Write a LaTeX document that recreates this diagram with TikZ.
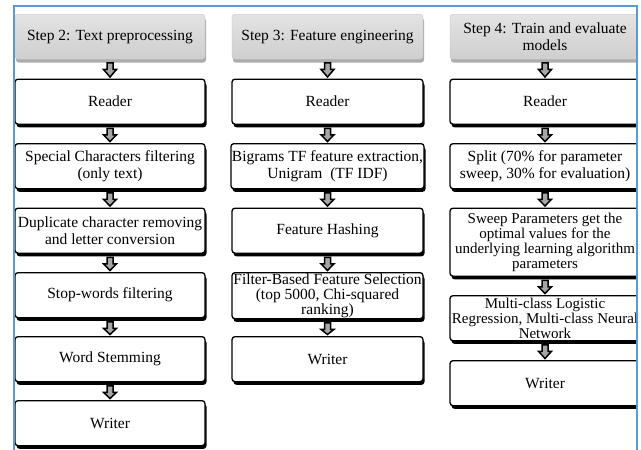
\documentclass[tikz,border=0pt]{standalone}
\usepackage{fontspec}
\setmainfont{Liberation Serif}
\usetikzlibrary{calc,shadows}
\definecolor{framebl}{RGB}{91,155,213}
\tikzset{
  x=1pt, y=-1pt,
  box/.style={draw=black, line width=1.3pt, rounded corners=3pt, fill=white, anchor=north,
    align=center, inner sep=1pt, minimum height=45pt,
    font=\fontsize{15.5}{16.5}\selectfont,
    general shadow={fill=black, shadow xshift=1.5pt, shadow yshift=-3.2pt}},
  headbox/.style={rounded corners=3pt, anchor=north, align=center, inner sep=1pt,
    minimum height=45pt, top color=gray!22, bottom color=gray!38, draw=gray!45, line width=0.4pt,
    font=\fontsize{15.5}{16.5}\selectfont,
    general shadow={fill=gray!65, shadow xshift=1pt, shadow yshift=-3.5pt}},
  blockarr/.style={draw=black, fill=gray!70, line width=1.5pt, line join=miter},
  frameline/.style={draw=framebl, line width=2.2pt}
}
\newcommand\darr[2]{\draw[blockarr] ($(#1.south)+(-3,3.5)$) -- ($(#1.south)+(3,3.5)$) -- ($(#1.south)+(3,10)$) -- ($(#1.south)+(6.5,10)$) -- ($(#2.north)+(0,-1.5)$) -- ($(#1.south)+(-6.5,10)$) -- ($(#1.south)+(-3,10)$) -- cycle;}
\begin{document}
\begin{tikzpicture}
\useasboundingbox (0,0) rectangle (641,450);
\fill[white] (0,0) rectangle (641,450);
% column 1
\node[headbox, minimum width=190pt] (h1) at (110,14) {Step 2: Text preprocessing};
\node[box, minimum width=190pt] (a1) at (110,78.5) {Reader};
\node[box, minimum width=190pt] (a2) at (110,143) {Special Characters filtering\\(only text)};
\node[box, minimum width=190pt] (a3) at (110,207.5) {Duplicate character removing\\and letter conversion};
\node[box, minimum width=190pt] (a4) at (110,272) {Stop-words filtering};
\node[box, minimum width=190pt] (a5) at (110,336) {Word Stemming};
\node[box, minimum width=190pt] (a6) at (110,400) {Writer};
% column 2
\node[headbox, minimum width=191pt] (h2) at (327.5,14) {Step 3: Feature engineering};
\node[box, minimum width=191pt] (b1) at (327.5,78.5) {Reader};
\node[box, minimum width=191pt] (b2) at (327.5,143) {Bigrams TF feature extraction,\\Unigram~ (TF IDF)};
\node[box, minimum width=191pt] (b3) at (327.5,207.5) {Feature Hashing};
\node[box, minimum width=191pt, font=\fontsize{15.5}{15}\selectfont] (b4) at (327.5,272) {Filter-Based Feature Selection\\(top 5000, Chi-squared\\ranking)};
\node[box, minimum width=191pt] (b5) at (327.5,336) {Writer};
% column 3
\node[headbox, minimum width=190pt] (h3) at (545,14) {Step 4: Train and evaluate\\models};
\node[box, minimum width=190pt] (c1) at (545,78.5) {Reader};
\node[box, minimum width=190pt] (c2) at (545,143) {Split (70\% for parameter\\sweep, 30\% for evaluation)};
\node[box, minimum width=190pt, minimum height=68pt, font=\fontsize{15}{15}\selectfont] (c3) at (545,207.5) {Sweep Parameters get the\\optimal values for the\\underlying learning algorithm\\parameters};
\node[box, minimum width=190pt, font=\fontsize{15}{15}\selectfont] (c4) at (545,295) {Multi-class Logistic\\Regression, Multi-class Neural\\Network};
\node[box, minimum width=190pt] (c5) at (545,360) {Writer};
% arrows
\darr{h1}{a1}\darr{a1}{a2}\darr{a2}{a3}\darr{a3}{a4}\darr{a4}{a5}\darr{a5}{a6}
\darr{h2}{b1}\darr{b1}{b2}\darr{b2}{b3}\darr{b3}{b4}\darr{b4}{b5}
\darr{h3}{c1}\darr{c1}{c2}\darr{c2}{c3}\darr{c3}{c4}\darr{c4}{c5}
% frame
\fill[white] (638,0) rectangle (641,450);
\draw[frameline] (14,450) -- (14,6) -- (637,6) -- (637,450);
\end{tikzpicture}
\end{document}
